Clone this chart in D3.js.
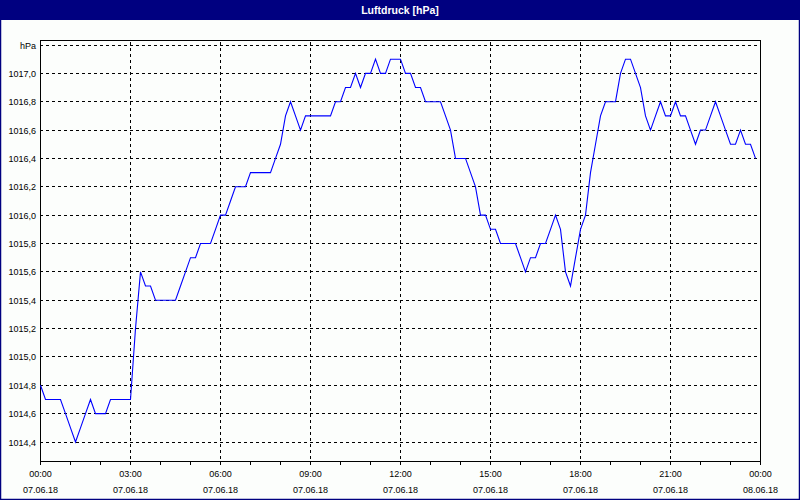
<!DOCTYPE html>
<html>
<head>
<meta charset="utf-8">
<script src="https://cdn.jsdelivr.net/npm/d3@7"></script>
<style>
  html, body { margin: 0; padding: 0; background: #fcfefc; }
  svg { display: block; }
</style>
</head>
<body>
<svg id="chart"></svg>
<script>
// Luftdruck, 07.06.18, one reading every 10 minutes (00:00 .. 23:50)
const startTime = new Date(2018, 5, 7, 0, 0);
const stepMinutes = 10;
const pressure = [
  1014.8, 1014.7, 1014.7, 1014.7, 1014.7, 1014.6, 1014.5, 1014.4, 1014.5, 1014.6,
  1014.7, 1014.6, 1014.6, 1014.6, 1014.7, 1014.7, 1014.7, 1014.7, 1014.7, 1015.2,
  1015.6, 1015.5, 1015.5, 1015.4, 1015.4, 1015.4, 1015.4, 1015.4, 1015.5, 1015.6,
  1015.7, 1015.7, 1015.8, 1015.8, 1015.8, 1015.9, 1016.0, 1016.0, 1016.1, 1016.2,
  1016.2, 1016.2, 1016.3, 1016.3, 1016.3, 1016.3, 1016.3, 1016.4, 1016.5, 1016.7,
  1016.8, 1016.7, 1016.6, 1016.7, 1016.7, 1016.7, 1016.7, 1016.7, 1016.7, 1016.8,
  1016.8, 1016.9, 1016.9, 1017.0, 1016.9, 1017.0, 1017.0, 1017.1, 1017.0, 1017.0,
  1017.1, 1017.1, 1017.1, 1017.0, 1017.0, 1016.9, 1016.9, 1016.8, 1016.8, 1016.8,
  1016.8, 1016.7, 1016.6, 1016.4, 1016.4, 1016.4, 1016.3, 1016.2, 1016.0, 1016.0,
  1015.9, 1015.9, 1015.8, 1015.8, 1015.8, 1015.8, 1015.7, 1015.6, 1015.7, 1015.7,
  1015.8, 1015.8, 1015.9, 1016.0, 1015.9, 1015.6, 1015.5, 1015.7, 1015.9, 1016.0,
  1016.3, 1016.5, 1016.7, 1016.8, 1016.8, 1016.8, 1017.0, 1017.1, 1017.1, 1017.0,
  1016.9, 1016.7, 1016.6, 1016.7, 1016.8, 1016.7, 1016.7, 1016.8, 1016.7, 1016.7,
  1016.6, 1016.5, 1016.6, 1016.6, 1016.7, 1016.8, 1016.7, 1016.6, 1016.5, 1016.5,
  1016.6, 1016.5, 1016.5, 1016.4
];

// y axis tick values (top line carries the unit label)
const yTicks = [1014.4, 1014.6, 1014.8, 1015.0, 1015.2, 1015.4, 1015.6, 1015.8,
                1016.0, 1016.2, 1016.4, 1016.6, 1016.8, 1017.0, 1017.2];
const yUnit = "hPa";
// x axis: major ticks every 3 hours, minor ticks every hour
const xMajorHours = [0, 3, 6, 9, 12, 15, 18, 21, 24];
const xMinorHours = d3.range(0, 25);
const title = "Luftdruck [hPa]";

const W = 800, H = 500;
const plotLeft = 40, plotRight = 760, plotTop = 40, plotBottom = 461;

const svg = d3.select("#chart").attr("width", W).attr("height", H);
const font = "'Liberation Sans', Arial, sans-serif";

// window frame + title bar
svg.append("rect").attr("x", 0).attr("y", 0).attr("width", W).attr("height", H)
  .attr("fill", "#fcfefc");
svg.append("rect").attr("x", 0).attr("y", 0).attr("width", W).attr("height", 20)
  .attr("fill", "#000080");
svg.append("rect").attr("x", 0.5).attr("y", 0.5).attr("width", W - 1).attr("height", H - 1)
  .attr("fill", "none").attr("stroke", "#000080").attr("stroke-width", 1.5);
svg.append("text")
  .attr("x", W / 2).attr("y", 14)
  .attr("text-anchor", "middle")
  .attr("font-family", font).attr("font-weight", "bold").attr("font-size", "10.5px")
  .attr("fill", "#ffffff")
  .text(title);

const hourToDate = h => d3.timeHour.offset(startTime, h);
const times = pressure.map((d, i) => d3.timeMinute.offset(startTime, i * stepMinutes));

const x = d3.scaleTime()
  .domain([hourToDate(0), hourToDate(24)])
  .range([plotLeft, plotRight]);
const y = d3.scaleLinear()
  .domain([1014.4, 1017.2])
  .range([441.5, 44.5]);

// horizontal dashed grid lines
svg.append("g").selectAll("line").data(yTicks).join("line")
  .attr("x1", plotLeft).attr("x2", plotRight - 2)
  .attr("y1", d => Math.round(y(d)) + 0.5).attr("y2", d => Math.round(y(d)) + 0.5)
  .attr("stroke", "#000").attr("stroke-dasharray", "3,3")
  .attr("shape-rendering", "crispEdges");

// vertical dashed grid lines
svg.append("g").selectAll("line").data(xMajorHours.slice(1, -1)).join("line")
  .attr("x1", d => Math.round(x(hourToDate(d))) + 0.5)
  .attr("x2", d => Math.round(x(hourToDate(d))) + 0.5)
  .attr("y1", plotTop + 2).attr("y2", plotBottom)
  .attr("stroke", "#000").attr("stroke-dasharray", "3,3")
  .attr("shape-rendering", "crispEdges");

// plot frame
svg.append("rect")
  .attr("x", plotLeft + 0.5).attr("y", plotTop + 0.5)
  .attr("width", plotRight - plotLeft).attr("height", plotBottom - plotTop)
  .attr("fill", "none").attr("stroke", "#000").attr("stroke-width", 1)
  .attr("shape-rendering", "crispEdges");

// y labels
svg.append("g").selectAll("text").data(yTicks).join("text")
  .attr("x", plotLeft - 4)
  .attr("y", d => Math.round(y(d)) + 3.5)
  .attr("text-anchor", "end")
  .attr("font-family", font).attr("font-size", "9px").attr("fill", "#000")
  .text((d, i) => i === yTicks.length - 1 ? yUnit : d.toFixed(1).replace(".", ","));

// x axis minor ticks
svg.append("g").selectAll("line").data(xMinorHours).join("line")
  .attr("x1", d => Math.round(x(hourToDate(d))) + 0.5)
  .attr("x2", d => Math.round(x(hourToDate(d))) + 0.5)
  .attr("y1", plotBottom).attr("y2", plotBottom + 4)
  .attr("stroke", "#000").attr("shape-rendering", "crispEdges");

// x axis labels (time + date)
const fmtTime = d3.timeFormat("%H:%M");
const fmtDate = d3.timeFormat("%d.%m.%y");
const xl = svg.append("g").selectAll("g").data(xMajorHours).join("g")
  .attr("transform", d => `translate(${Math.round(x(hourToDate(d))) + 0.5},0)`);
xl.append("text").attr("y", 477)
  .attr("text-anchor", "middle")
  .attr("font-family", font).attr("font-size", "9px").attr("fill", "#000")
  .text(d => fmtTime(hourToDate(d)));
xl.append("text").attr("y", 493)
  .attr("text-anchor", "middle")
  .attr("font-family", font).attr("font-size", "9px").attr("fill", "#000")
  .text(d => fmtDate(hourToDate(d)));

// pressure line
const line = d3.line()
  .x((d, i) => x(times[i]) + 0.5)
  .y(d => y(d) + 0.5);
svg.append("path")
  .datum(pressure)
  .attr("d", line)
  .attr("fill", "none")
  .attr("stroke", "#0000ff")
  .attr("stroke-width", 1.1);
</script>
</body>
</html>
